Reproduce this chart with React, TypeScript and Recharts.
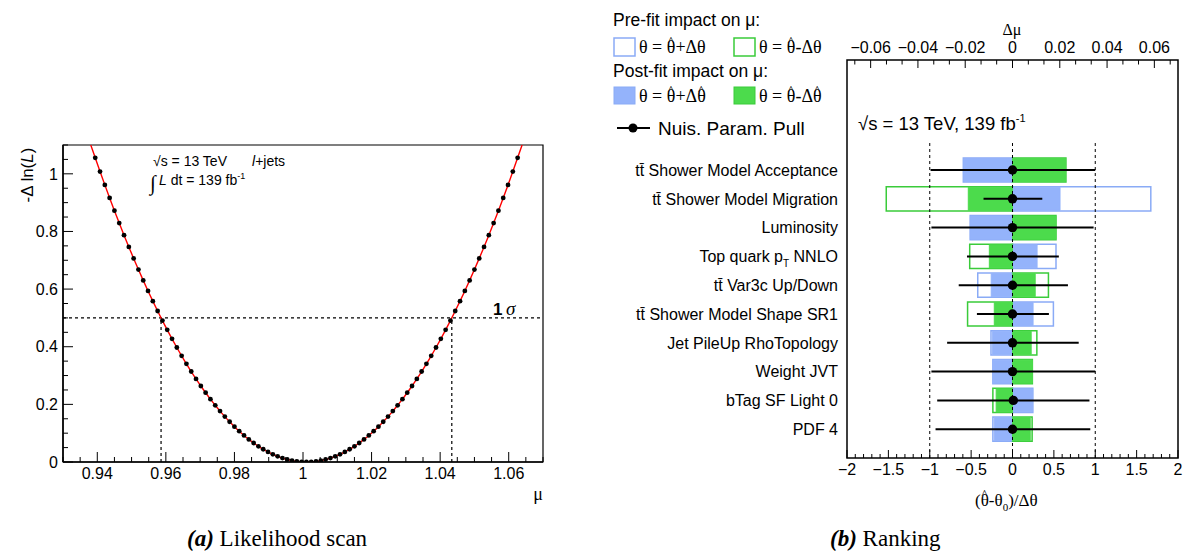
import { ComposedChart, Line, Scatter, XAxis, YAxis, ReferenceLine, ReferenceArea, ErrorBar } from 'recharts';

const SANS = '"Liberation Sans", Arial, Helvetica, sans-serif';
const SERIF = '"Liberation Serif", "Times New Roman", serif';

// ---- (a) likelihood scan ----
const scanMu = [
  0.9394, 0.9408, 0.9422, 0.9436, 0.945, 0.9464, 0.9478, 0.9492, 0.9506, 0.952,
  0.9534, 0.9548, 0.9562, 0.9576, 0.959, 0.9604, 0.9618, 0.9632, 0.9646, 0.966,
  0.9674, 0.9688, 0.9702, 0.9716, 0.973, 0.9744, 0.9758, 0.9772, 0.9786, 0.98,
  0.9814, 0.9828, 0.9842, 0.9856, 0.987, 0.9884, 0.9898, 0.9912, 0.9926, 0.994,
  0.9954, 0.9968, 0.9982, 0.9996, 1.001, 1.0024, 1.0038, 1.0052, 1.0066, 1.008,
  1.0094, 1.0108, 1.0122, 1.0136, 1.015, 1.0164, 1.0178, 1.0192, 1.0206, 1.022,
  1.0234, 1.0248, 1.0262, 1.0276, 1.029, 1.0304, 1.0318, 1.0332, 1.0346, 1.036,
  1.0374, 1.0388, 1.0402, 1.0416, 1.043, 1.0444, 1.0458, 1.0472, 1.0486, 1.05,
  1.0514, 1.0528, 1.0542, 1.0556, 1.057, 1.0584, 1.0598, 1.0612, 1.0626,
];
const scanNll = [
  1.0554, 1.0079, 0.9616, 0.9164, 0.8722, 0.8291, 0.7872, 0.7463, 0.7065, 0.6678,
  0.6302, 0.5936, 0.5582, 0.5239, 0.4906, 0.4585, 0.4274, 0.3974, 0.3685, 0.3407,
  0.314, 0.2884, 0.2638, 0.2404, 0.2181, 0.1968, 0.1766, 0.1575, 0.1396, 0.1227,
  0.1069, 0.0921, 0.0785, 0.066, 0.0545, 0.0442, 0.0349, 0.0267, 0.0196, 0.0136,
  0.0087, 0.0049, 0.0022, 0.0005, 0, 0.0005, 0.0022, 0.0049, 0.0087, 0.0136,
  0.0196, 0.0267, 0.0349, 0.0442, 0.0545, 0.066, 0.0785, 0.0921, 0.1069, 0.1227,
  0.1396, 0.1575, 0.1766, 0.1968, 0.2181, 0.2404, 0.2638, 0.2884, 0.314, 0.3407,
  0.3685, 0.3974, 0.4274, 0.4585, 0.4906, 0.5239, 0.5582, 0.5936, 0.6302, 0.6678,
  0.7065, 0.7463, 0.7872, 0.8291, 0.8722, 0.9164, 0.9616, 1.0079, 1.0554,
];
// fit curve reaches the frame top at these points
const fitEndMu = [0.9381, 1.0639];
const fitEndNll = [1.1, 1.1];
const oneSigmaLevel = 0.5;
const oneSigmaMu = [0.9586, 1.0434];

const muTicks = [
  0.93, 0.935, 0.94, 0.945, 0.95, 0.955, 0.96, 0.965, 0.97, 0.975, 0.98, 0.985, 0.99, 0.995, 1,
  1.005, 1.01, 1.015, 1.02, 1.025, 1.03, 1.035, 1.04, 1.045, 1.05, 1.055, 1.06, 1.065, 1.07,
];
const muMajor = [0.94, 0.96, 0.98, 1, 1.02, 1.04, 1.06];
const nllTicks = [
  0, 0.05, 0.1, 0.15, 0.2, 0.25, 0.3, 0.35, 0.4, 0.45, 0.5, 0.55, 0.6, 0.65, 0.7, 0.75, 0.8,
  0.85, 0.9, 0.95, 1, 1.05, 1.1,
];
const nllMajor = [0, 0.2, 0.4, 0.6, 0.8, 1];

// ---- (b) ranking ----
const npNames = [
  't\u0074\u0304 Shower Model Acceptance',
  't\u0074\u0304 Shower Model Migration',
  'Luminosity',
  'Top quark p_{T} NNLO',
  't\u0074\u0304 Var3c Up/Down',
  't\u0074\u0304 Shower Model Shape SR1',
  'Jet PileUp RhoTopology',
  'Weight JVT',
  'bTag SF Light 0',
  'PDF 4',
];
const pullVal = [0, 0, 0, 0, 0, 0, 0, 0, 0.01, 0];
const pullErrLo = [0.99, 0.35, 0.98, 0.55, 0.65, 0.43, 0.79, 0.98, 0.92, 0.93];
const pullErrHi = [1.0, 0.36, 0.98, 0.56, 0.67, 0.44, 0.8, 1.0, 0.92, 0.94];
// impacts on mu (delta mu)
const preUp = [-0.0208, 0.0585, -0.0179, 0.0184, -0.0147, 0.0173, -0.0091, -0.0083, 0.0086, -0.0083];
const preDown = [0.0226, -0.0534, 0.0184, -0.0181, 0.0152, -0.019, 0.0103, 0.0084, -0.0083, 0.0083];
const postUp = [-0.0206, 0.0201, -0.0178, 0.0104, -0.009, 0.0087, -0.0084, -0.0082, 0.0085, -0.0077];
const postDown = [0.0224, -0.0187, 0.0183, -0.0098, 0.0096, -0.0077, 0.0079, 0.0084, -0.0069, 0.0075];

const pullTicks = [
  -2, -1.9, -1.8, -1.7, -1.6, -1.5, -1.4, -1.3, -1.2, -1.1, -1, -0.9, -0.8, -0.7, -0.6, -0.5,
  -0.4, -0.3, -0.2, -0.1, 0, 0.1, 0.2, 0.3, 0.4, 0.5, 0.6, 0.7, 0.8, 0.9, 1, 1.1, 1.2, 1.3,
  1.4, 1.5, 1.6, 1.7, 1.8, 1.9, 2,
];
const pullMajor = [-2, -1.5, -1, -0.5, 0, 0.5, 1, 1.5, 2];
const dmuTicks = [
  -0.0667, -0.06, -0.0533, -0.0467, -0.04, -0.0333, -0.0267, -0.02, -0.0133, -0.0067, 0,
  0.0067, 0.0133, 0.02, 0.0267, 0.0333, 0.04, 0.0467, 0.0533, 0.06, 0.0667,
];
const dmuMajor = [-0.06, -0.04, -0.02, 0, 0.02, 0.04, 0.06];

const PULL_MAX = 2;
const DMU_MAX = 0.07;
const toPull = (dmu: number) => (dmu * PULL_MAX) / DMU_MAX;

const BLUE_FILL = '#94b3fb';
const BLUE_LINE = '#8aabf6';
const GREEN_FILL = '#4cdb4c';
const GREEN_LINE = '#3acb3a';

const scanRows = scanMu.map((mu, i) => ({ mu, nll: scanNll[i] }));
const fitRows = [
  { mu: fitEndMu[0], nll: fitEndNll[0] },
  ...scanRows,
  { mu: fitEndMu[1], nll: fitEndNll[1] },
];
const nRows = npNames.length;
const pullRows = npNames.map((_, i) => ({
  pull: pullVal[i],
  row: nRows - i,
  err: [pullErrLo[i], pullErrHi[i]],
}));
// impact rows tie the top (delta mu) axis to data
const impactRows = npNames.map((_, i) => ({ dmu: postUp[i], row: nRows - i }));

const fmt = (v: number) => (v < 0 ? '\u2212' + Math.abs(v) : String(v));
const isIn = (list: number[], v: number) => list.some((m) => Math.abs(m - v) < 1e-6);

// theta with a hat (raised caret), followed by optional text
const HatTheta = ({ fs, w, rest }: { fs: number; w: number; rest?: string }) => {
  const cs = fs * 0.75;
  const cw = cs * 0.47;
  const dy = fs * 0.45;
  return (
    <>
      <tspan>θ</tspan>
      <tspan fontSize={cs} dx={-(w / 2 + cw / 2)} dy={-dy}>^</tspan>
      {rest ? <tspan fontSize={fs} dx={w / 2 - cw / 2} dy={dy}>{rest}</tspan> : null}
    </>
  );
};

const MuTick = ({ x, y, payload }: any) => {
  const major = isIn(muMajor, payload.value);
  return (
    <g>
      <line x1={x} y1={y} x2={x} y2={y - (major ? 10 : 5)} stroke="#000" />
      {major && (
        <text x={x} y={y + 17} textAnchor="middle" fontSize={16} fontFamily={SANS} fill="#000">
          {fmt(payload.value)}
        </text>
      )}
    </g>
  );
};

const NllTick = ({ x, y, payload }: any) => {
  const major = isIn(nllMajor, payload.value);
  return (
    <g>
      <line x1={x} y1={y} x2={x + (major ? 10 : 5)} y2={y} stroke="#000" />
      {major && (
        <text x={x - 5} y={y} dy="0.36em" textAnchor="end" fontSize={16} fontFamily={SANS} fill="#000">
          {fmt(payload.value)}
        </text>
      )}
    </g>
  );
};

const PullTick = ({ x, y, payload }: any) => {
  const major = isIn(pullMajor, payload.value);
  return (
    <g>
      <line x1={x} y1={y} x2={x} y2={y - (major ? 8 : 4)} stroke="#000" />
      {major && (
        <text x={x} y={y + 17} textAnchor="middle" fontSize={16} fontFamily={SANS} fill="#000">
          {fmt(payload.value)}
        </text>
      )}
    </g>
  );
};

const DmuTick = ({ x, y, payload }: any) => {
  const major = isIn(dmuMajor, payload.value);
  return (
    <g>
      <line x1={x} y1={y} x2={x} y2={y + (major ? 8 : 4.5)} stroke="#000" />
      {major && (
        <text x={x} y={y - 7} textAnchor="middle" fontSize={16} fontFamily={SANS} fill="#000">
          {fmt(payload.value)}
        </text>
      )}
    </g>
  );
};

const RankTick = ({ x, y, payload }: any) => {
  const name = npNames[nRows - payload.value];
  if (!name) return null;
  const parts = name.split('_{T}');
  return (
    <text x={x - 9} y={y} dy="0.36em" textAnchor="end" fontSize={16} fontFamily={SANS} fill="#000">
      {parts.length > 1 ? (
        <>
          {parts[0]}
          <tspan fontSize={10} dy={5} fill="#000">T</tspan>
          <tspan dy={-5} fill="#000">{parts[1]}</tspan>
        </>
      ) : (
        name
      )}
    </text>
  );
};

const Dot = ({ cx, cy, r }: any) => <circle cx={cx} cy={cy} r={r} fill="#000" />;

const LikelihoodScan = () => (
  <ComposedChart width={560} height={554} margin={{ top: 145, right: 17, bottom: 91, left: 62 }}>
    <XAxis
      dataKey="mu"
      type="number"
      domain={[0.93, 1.07]}
      allowDataOverflow
      ticks={muTicks}
      interval={0}
      tick={<MuTick />}
      tickSize={0}
      tickMargin={0}
      height={1}
      axisLine={{ stroke: '#000', strokeWidth: 1.5 }}
    />
    <YAxis
      dataKey="nll"
      type="number"
      domain={[0, 1.1]}
      allowDataOverflow
      ticks={nllTicks}
      interval={0}
      tick={<NllTick />}
      tickSize={0}
      tickMargin={0}
      width={1}
      axisLine={{ stroke: '#000', strokeWidth: 1.5 }}
    />
    <ReferenceArea x1={0.93} x2={1.07} y1={0} y2={1.1} fill="none" stroke="#000" strokeWidth={1.2} fillOpacity={0} />
    <ReferenceLine y={oneSigmaLevel} stroke="#000" strokeWidth={1.2} strokeDasharray="3 3" />
    {oneSigmaMu.map((m) => (
      <ReferenceLine
        key={m}
        segment={[{ x: m, y: 0 }, { x: m, y: oneSigmaLevel }]}
        stroke="#000"
        strokeWidth={1.2}
        strokeDasharray="3 3"
      />
    ))}
    <Line data={fitRows} dataKey="nll" type="monotone" stroke="#ff0000" strokeWidth={1.4} dot={false} isAnimationActive={false} />
    <Scatter data={scanRows} dataKey="nll" shape={(p: any) => <Dot {...p} r={2.4} />} isAnimationActive={false} />
  </ComposedChart>
);

const Box = (key: string, row: number, dmu: number, fill: string, stroke: string, filled: boolean) => (
  <ReferenceArea
    key={key}
    xAxisId="pull"
    x1={0}
    x2={toPull(dmu)}
    y1={row - (filled ? 0.4 : 0.42)}
    y2={row + (filled ? 0.4 : 0.42)}
    fill={fill}
    fillOpacity={filled ? 1 : 0}
    stroke={stroke}
    strokeWidth={filled ? 1 : 1.5}
    ifOverflow="visible"
  />
);

const Ranking = () => (
  <ComposedChart width={628} height={554} margin={{ top: 59, right: 10, bottom: 95, left: 286 }}>
    <XAxis
      xAxisId="pull"
      dataKey="pull"
      type="number"
      domain={[-PULL_MAX, PULL_MAX]}
      allowDataOverflow
      ticks={pullTicks}
      interval={0}
      tick={<PullTick />}
      tickSize={0}
      tickMargin={0}
      height={1}
      axisLine={false}
    />
    <XAxis
      xAxisId="dmu"
      dataKey="dmu"
      orientation="top"
      type="number"
      domain={[-DMU_MAX, DMU_MAX]}
      allowDataOverflow
      ticks={dmuTicks}
      interval={0}
      tick={<DmuTick />}
      tickSize={0}
      tickMargin={0}
      height={1}
      axisLine={false}
    />
    <YAxis
      dataKey="row"
      type="number"
      domain={[0, 13.82]}
      allowDataOverflow
      ticks={pullRows.map((r) => r.row)}
      interval={0}
      tick={<RankTick />}
      tickSize={0}
      tickMargin={0}
      width={1}
      axisLine={false}
    />
    {pullRows.map((r, i) => Box('pu' + i, r.row, preUp[i], '#fff', BLUE_LINE, false))}
    {pullRows.map((r, i) => Box('pd' + i, r.row, preDown[i], '#fff', GREEN_LINE, false))}
    {pullRows.map((r, i) => Box('qu' + i, r.row, postUp[i], BLUE_FILL, BLUE_FILL, true))}
    {pullRows.map((r, i) => Box('qd' + i, r.row, postDown[i], GREEN_FILL, GREEN_FILL, true))}
    <ReferenceArea xAxisId="pull" x1={-PULL_MAX} x2={PULL_MAX} y1={0} y2={13.82} fill="none" fillOpacity={0} stroke="#000" strokeWidth={1.5} />
    {[-1, 0, 1].map((v) => (
      <ReferenceLine
        key={v}
        xAxisId="pull"
        segment={[{ x: v, y: 0 }, { x: v, y: nRows + 1 }]}
        stroke="#000"
        strokeWidth={1}
        strokeDasharray="3 3"
      />
    ))}
    <Scatter xAxisId="dmu" data={impactRows} dataKey="row" shape={() => <g />} isAnimationActive={false} />
    <Scatter xAxisId="pull" data={pullRows} dataKey="row" shape={(p: any) => <Dot {...p} r={4.7} />} isAnimationActive={false}>
      <ErrorBar dataKey="err" direction="x" width={0} stroke="#000" strokeWidth={2} isAnimationActive={false} />
    </Scatter>
  </ComposedChart>
);

const Overlay = () => (
  <svg width={1188} height={554} style={{ position: 'absolute', left: 0, top: 0, pointerEvents: 'none' }}>
    {/* (a) labels */}
    <text transform="translate(33,175) rotate(-90)" textAnchor="middle" fontSize={17} fontFamily={SANS}>
      -Δ ln(<tspan fontStyle="italic">L</tspan>)
    </text>
    <text x={538} y={500} textAnchor="middle" fontSize={18} fontFamily={SERIF}>μ</text>
    <text x={153} y={166} fontSize={14} fontFamily={SANS}>√s = 13 TeV</text>
    <text x={252} y={166} fontSize={14} fontFamily={SANS}>
      <tspan fontStyle="italic">l</tspan>+jets
    </text>
    <text x={150} y={190} fontSize={21} fontFamily={SERIF}>∫</text>
    <text x={159} y={185} fontSize={14} fontFamily={SANS}>
      <tspan fontStyle="italic">L</tspan> dt = 139 fb<tspan fontSize={9} dy={-6}>-1</tspan>
    </text>
    <text x={493} y={315} fontSize={17} fontFamily={SANS} fontWeight="bold">1</text>
    <text x={506} y={315} fontSize={19} fontFamily={SERIF} fontStyle="italic">σ</text>
    <text x={187} y={546} fontSize={23} fontFamily={SERIF}>
      <tspan fontWeight="bold" fontStyle="italic">(a)</tspan> Likelihood scan
    </text>

    {/* (b) legend and labels */}
    <text x={613} y={26} fontSize={17.5} fontFamily={SANS}>Pre-fit impact on μ:</text>
    <rect x={614} y={38} width={21} height={18} fill="#fff" stroke={BLUE_LINE} strokeWidth={1.5} />
    <text x={639} y={53} fontSize={18} fontFamily={SERIF}>
      θ = <HatTheta fs={18} w={9} rest="+Δθ" />
    </text>
    <rect x={734} y={38} width={21} height={18} fill="#fff" stroke={GREEN_LINE} strokeWidth={1.5} />
    <text x={759} y={53} fontSize={18} fontFamily={SERIF}>
      θ = <HatTheta fs={18} w={9} rest="-Δθ" />
    </text>
    <text x={613} y={77} fontSize={17.5} fontFamily={SANS}>Post-fit impact on μ:</text>
    <rect x={614} y={87} width={21} height={17} fill={BLUE_FILL} stroke={BLUE_LINE} strokeWidth={1} />
    <text x={639} y={102} fontSize={18} fontFamily={SERIF}>
      θ = <HatTheta fs={18} w={9} rest="+Δ" /><HatTheta fs={18} w={9} />
    </text>
    <rect x={734} y={87} width={21} height={17} fill={GREEN_FILL} stroke={GREEN_LINE} strokeWidth={1} />
    <text x={759} y={102} fontSize={18} fontFamily={SERIF}>
      θ = <HatTheta fs={18} w={9} rest="-Δ" /><HatTheta fs={18} w={9} />
    </text>
    <line x1={617} y1={128} x2={650} y2={128} stroke="#000" strokeWidth={2} />
    <circle cx={633} cy={128} r={4.5} fill="#000" />
    <text x={658} y={135} fontSize={19} fontFamily={SANS}>Nuis. Param. Pull</text>

    <text x={1012} y={35} textAnchor="middle" fontSize={16} fontFamily={SERIF}>Δμ</text>
    <text x={858} y={130} fontSize={18.5} fontFamily={SANS}>
      √s = 13 TeV, 139 fb<tspan fontSize={11} dy={-8}>-1</tspan>
    </text>
    <text x={975} y={506} fontSize={17} fontFamily={SERIF}>
      (<HatTheta fs={17} w={8.5} rest="-θ" /><tspan fontSize={11} dy={5}>0</tspan><tspan dy={-5}>)/Δθ</tspan>
    </text>
    <text x={830} y={546} fontSize={23} fontFamily={SERIF}>
      <tspan fontWeight="bold" fontStyle="italic">(b)</tspan> Ranking
    </text>
  </svg>
);

export default function App() {
  return (
    <div style={{ position: 'absolute', left: 0, top: 0, width: 1188, height: 554, background: '#fff', fontFamily: SANS }}>
      <div style={{ position: 'absolute', left: 0, top: 0 }}>
        <LikelihoodScan />
      </div>
      <div style={{ position: 'absolute', left: 560, top: 0 }}>
        <Ranking />
      </div>
      <Overlay />
    </div>
  );
}
